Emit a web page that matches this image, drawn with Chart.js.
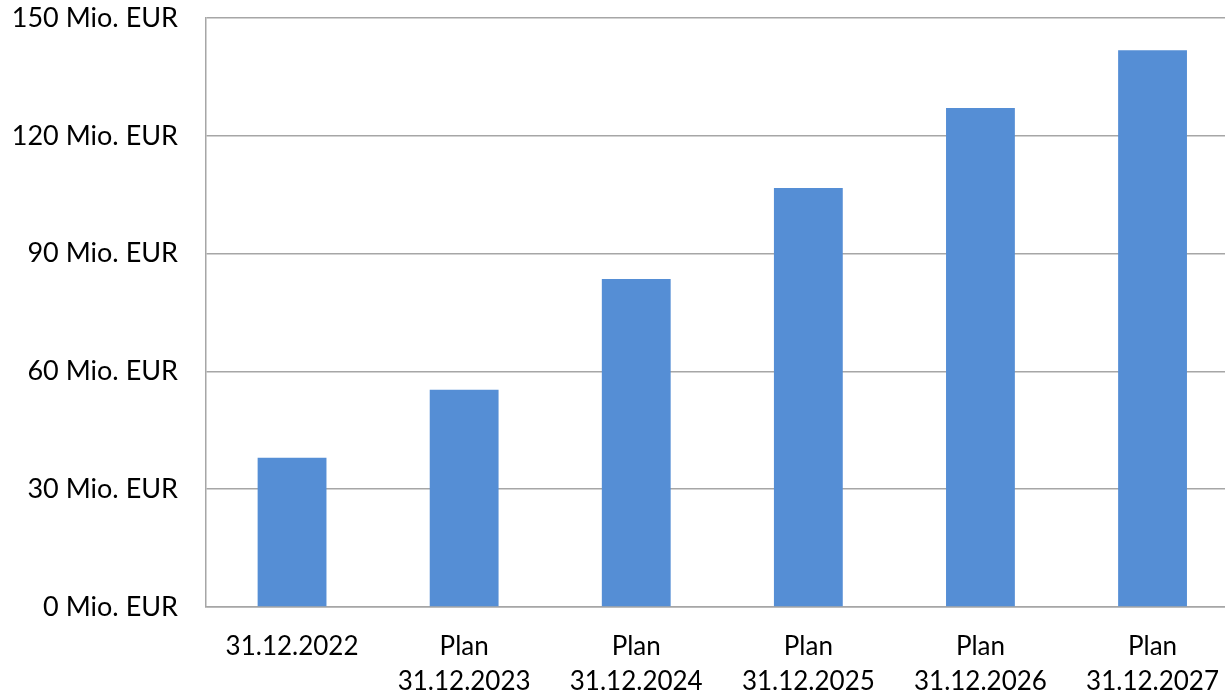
<!DOCTYPE html>
<html lang="de">
<head>
    <meta charset="UTF-8">
    <title>Mio. EUR Plan</title>
    <script src="https://cdn.jsdelivr.net/npm/chart.js"></script>
    <style>
        html, body {
            margin: 0;
            padding: 0;
            background: #ffffff;
            overflow: hidden;
        }
        .wrap {
            width: 1225px;
            height: 692px;
            overflow: hidden;
        }
    </style>
</head>
<body>
    <div class="wrap">
        <canvas id="barChart" width="1241" height="692"></canvas>
    </div>

    <script>
        const categories = [
            "31.12.2022",
            ["Plan", "31.12.2023"],
            ["Plan", "31.12.2024"],
            ["Plan", "31.12.2025"],
            ["Plan", "31.12.2026"],
            ["Plan", "31.12.2027"]
        ];
        const values = [38, 55.3, 83.5, 106.7, 127.1, 141.8];
        const yTicks = [0, 30, 60, 90, 120, 150];
        const unit = " Mio. EUR";

        const ctx = document.getElementById('barChart').getContext('2d');
        new Chart(ctx, {
            type: 'bar',
            data: {
                labels: categories,
                datasets: [{
                    data: values,
                    backgroundColor: '#558ED5',
                    categoryPercentage: 1,
                    barPercentage: 0.4
                }]
            },
            options: {
                responsive: false,
                animation: false,
                devicePixelRatio: 1,
                layout: { padding: 0 },
                plugins: {
                    legend: { display: false },
                    tooltip: { enabled: false }
                },
                scales: {
                    x: {
                        afterFit: (scale) => {
                            scale.height = 85;
                            scale.paddingTop = 0;
                            scale.paddingBottom = 0;
                        },
                        grid: { display: false, drawTicks: false },
                        border: { color: '#A6A6A6', width: 1.5 },
                        ticks: {
                            color: '#000',
                            padding: 22,
                            maxRotation: 0,
                            autoSkip: false,
                            font: { family: 'Lato', size: 26, lineHeight: 1.35 }
                        }
                    },
                    y: {
                        min: yTicks[0],
                        max: yTicks[yTicks.length - 1],
                        afterBuildTicks: (scale) => {
                            scale.ticks = yTicks.map(v => ({ value: v }));
                        },
                        afterFit: (scale) => {
                            scale.width = 206;
                            scale.paddingTop = 18;
                            scale.paddingBottom = 0;
                        },
                        grid: { color: '#A6A6A6', lineWidth: 1.5, drawTicks: false },
                        border: { color: '#A6A6A6', width: 1.5 },
                        ticks: {
                            color: '#000',
                            padding: 28,
                            font: { family: 'Lato', size: 27 },
                            callback: (v) => v + unit
                        }
                    }
                }
            }
        });
    </script>
</body>
</html>
